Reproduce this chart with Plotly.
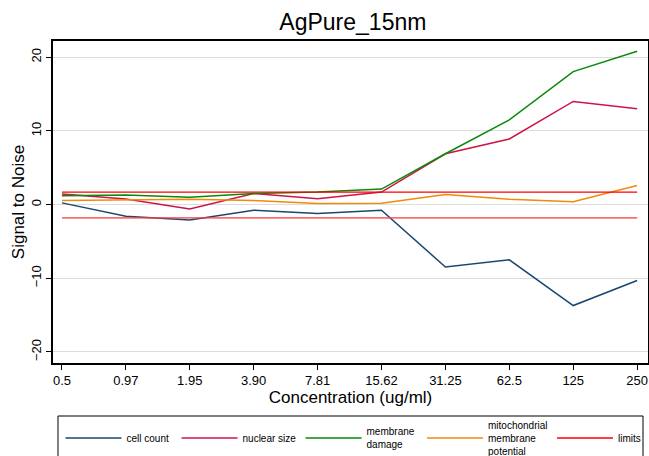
import plotly.graph_objects as go

concentrations = ["0.5", "0.97", "1.95", "3.90", "7.81", "15.62", "31.25", "62.5", "125", "250"]
cell_count = [0.23, -1.58, -2.1, -0.77, -1.2, -0.77, -8.47, -7.5, -13.7, -10.3]
nuclear_size = [1.45, 0.77, -0.6, 1.5, 0.8, 1.7, 6.9, 8.9, 14.0, 13.0]
membrane_damage = [1.2, 1.3, 1.0, 1.5, 1.7, 2.1, 6.9, 11.5, 18.05, 20.8]
mito_potential = [0.54, 0.63, 0.72, 0.54, 0.14, 0.18, 1.36, 0.72, 0.4, 2.6]
upper_limit = [1.7] * 10
lower_limit = [-1.8] * 10

FONT = "Liberation Sans, Arial, Helvetica, sans-serif"

fig = go.Figure()
fig.add_trace(go.Scatter(x=concentrations, y=cell_count, mode="lines", name="cell count",
                         legend="legend", line=dict(color="#1a476f", width=1.5)))
fig.add_trace(go.Scatter(x=concentrations, y=nuclear_size, mode="lines", name="nuclear size",
                         legend="legend2", line=dict(color="#cc1547", width=1.5)))
fig.add_trace(go.Scatter(x=concentrations, y=membrane_damage, mode="lines", name="membrane<br>damage",
                         legend="legend3", line=dict(color="#098a09", width=1.5)))
fig.add_trace(go.Scatter(x=concentrations, y=mito_potential, mode="lines",
                         name="mitochondrial<br>membrane<br>potential",
                         legend="legend4", line=dict(color="#f08a0c", width=1.5)))
fig.add_trace(go.Scatter(x=concentrations, y=upper_limit, mode="lines", name="limits",
                         legend="legend5", line=dict(color="#ff0000", width=1.3)))
fig.add_trace(go.Scatter(x=concentrations, y=lower_limit, mode="lines", name="limits",
                         showlegend=False, line=dict(color="rgba(255,60,60,0.75)", width=1.8)))

leg_y = -0.2329
leg_common = dict(orientation="h", xanchor="left", y=leg_y, yanchor="middle",
                  bgcolor="rgba(0,0,0,0)", borderwidth=0,
                  font=dict(size=10, family=FONT), itemwidth=56, valign="middle")
leg_x = [0.0126, 0.2076, 0.4160, 0.6202, 0.8387]

fig.update_layout(
    width=649, height=456,
    margin=dict(l=53, r=1, t=41, b=93, autoexpand=False),
    paper_bgcolor="white", plot_bgcolor="white",
    font=dict(family=FONT, color="black"),
    title=dict(text="AgPure_15nm", xref="paper", x=0.504, xanchor="center",
               y=0.9518, yanchor="middle", font=dict(size=23, family=FONT)),
    showlegend=True,
    legend=dict(x=leg_x[0], **leg_common),
    legend2=dict(x=leg_x[1], **leg_common),
    legend3=dict(x=leg_x[2], **leg_common),
    legend4=dict(x=leg_x[3], **leg_common),
    legend5=dict(x=leg_x[4], **leg_common),
    shapes=[dict(type="rect", xref="paper", yref="paper", x0=0.0084, x1=0.9916,
                 y0=-0.1646, y1=-0.40, line=dict(color="black", width=1),
                 fillcolor="rgba(0,0,0,0)", layer="above")],
)
fig.update_xaxes(type="category", range=[-0.14, 9.17], showgrid=False,
                 showline=True, linecolor="black", linewidth=1.5, mirror=True,
                 ticks="outside", ticklen=5, tickcolor="black",
                 tickfont=dict(size=13, family=FONT),
                 title=dict(text="Concentration (ug/ml)", font=dict(size=17, family=FONT), standoff=2),
                 zeroline=False)
fig.update_yaxes(range=[-21.5, 22.2], tickvals=[-20, -10, 0, 10, 20],
                 ticktext=["\u221220", "\u221210", "0", "10", "20"],
                 tickangle=-90, showgrid=True, gridcolor="#dddddd", gridwidth=1,
                 showline=True, linecolor="black", linewidth=1.5, mirror=True,
                 ticks="outside", ticklen=5, tickcolor="black",
                 tickfont=dict(size=13, family=FONT),
                 title=dict(text="Signal to Noise", font=dict(size=17, family=FONT), standoff=0),
                 zeroline=False)

fig.write_html("out.html", config={"displayModeBar": False},
               post_script="document.body.style.margin='0';document.body.style.overflow='hidden';")
